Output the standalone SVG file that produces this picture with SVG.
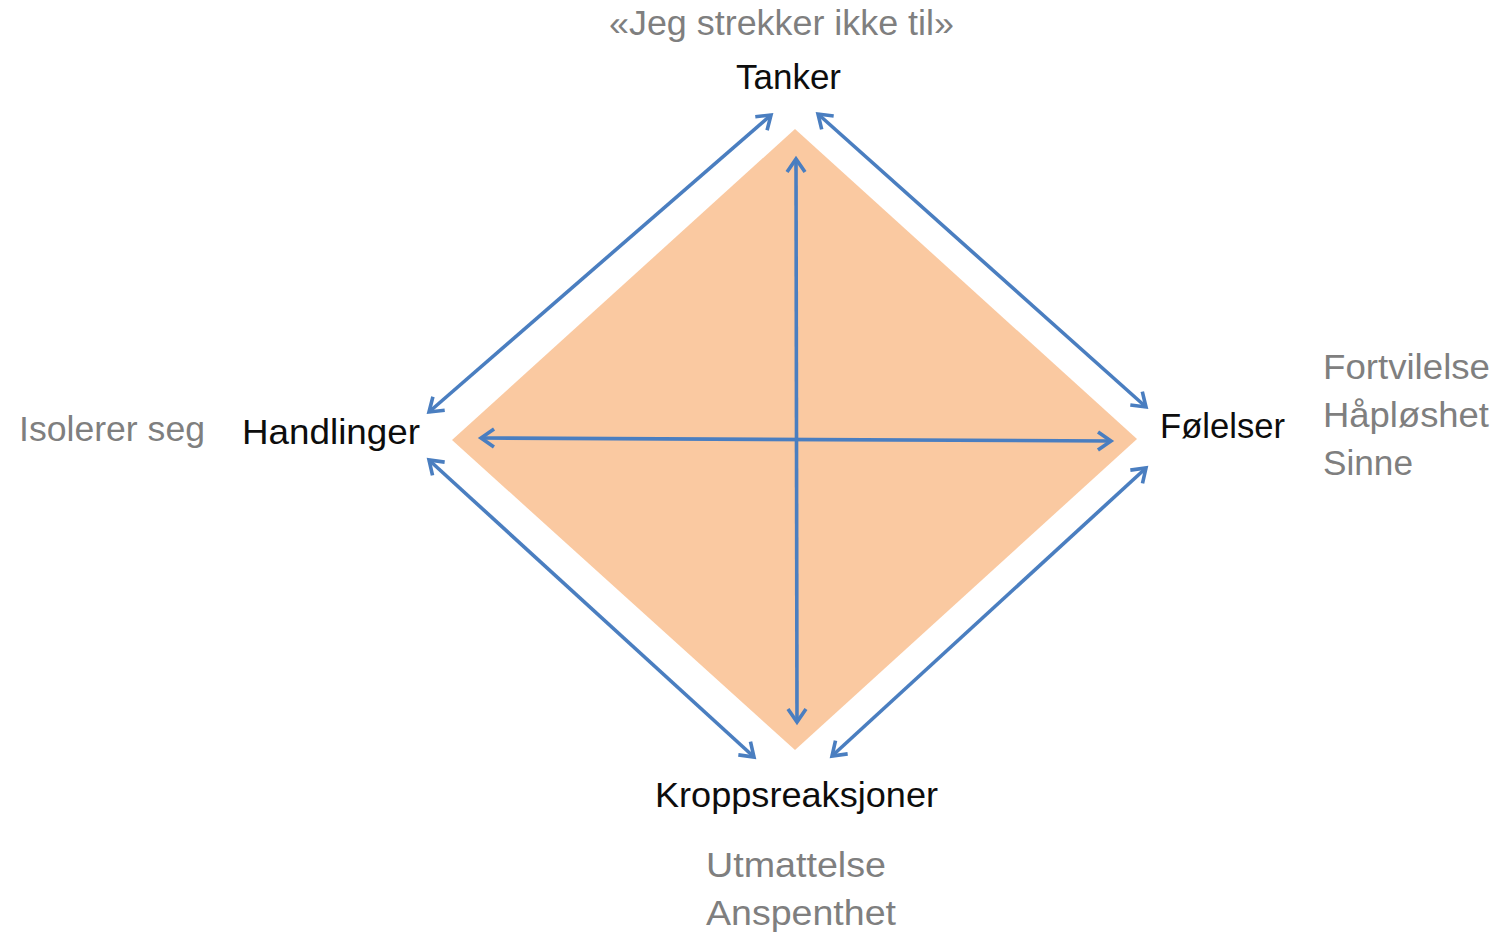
<svg xmlns="http://www.w3.org/2000/svg" width="1499" height="934" viewBox="0 0 1499 934">
<defs>
<style>
.lbl{font-family:"Liberation Sans",Arial,sans-serif;font-size:35px;fill:#0d0d0d}
.sub{font-family:"Liberation Sans",Arial,sans-serif;font-size:35px;fill:#7f7f7f}
.arr{stroke:#4a7ec0;stroke-width:3.6;fill:none;marker-start:url(#ah);marker-end:url(#ah)}
</style>
<marker id="ah" markerUnits="userSpaceOnUse" viewBox="-16 -12 20 24" markerWidth="20" markerHeight="24" refX="0" refY="0" orient="auto-start-reverse" overflow="visible">
<path d="M-13,-9 L0,0 L-13,9" fill="none" stroke="#4a7ec0" stroke-width="3.6" stroke-linejoin="miter"/>
</marker>
</defs>
<rect width="1499" height="934" fill="#ffffff"/>
<g id="diamond">
<polygon points="795,129 1137,439 795,750 452,440" fill="#fac9a1"/>
</g>
<g id="connectors">
<line class="arr" x1="429" y1="412" x2="771" y2="115"/>
<line class="arr" x1="818" y1="114" x2="1146" y2="407"/>
<line class="arr" x1="1146" y1="468" x2="832" y2="756"/>
<line class="arr" x1="429" y1="460" x2="754" y2="757"/>
<line class="arr" x1="796" y1="159" x2="797" y2="722"/>
<line class="arr" x1="481" y1="438" x2="1111" y2="441"/>
</g>
<g id="tanker">
<text class="sub" x="609" y="35" textLength="345" lengthAdjust="spacingAndGlyphs">«Jeg strekker ikke til»</text>
<text class="lbl" x="736" y="89" textLength="105" lengthAdjust="spacingAndGlyphs">Tanker</text>
</g>
<g id="folelser">
<text class="lbl" x="1160" y="438" textLength="125" lengthAdjust="spacingAndGlyphs">Følelser</text>
<text class="sub" x="1323" y="379" textLength="167" lengthAdjust="spacingAndGlyphs">Fortvilelse</text>
<text class="sub" x="1323" y="427" textLength="166" lengthAdjust="spacingAndGlyphs">Håpløshet</text>
<text class="sub" x="1323" y="475" textLength="90" lengthAdjust="spacingAndGlyphs">Sinne</text>
</g>
<g id="handlinger">
<text class="lbl" x="242" y="444" textLength="178" lengthAdjust="spacingAndGlyphs">Handlinger</text>
<text class="sub" x="19" y="441" textLength="186" lengthAdjust="spacingAndGlyphs">Isolerer seg</text>
</g>
<g id="kroppsreaksjoner">
<text class="lbl" x="655" y="807" textLength="283" lengthAdjust="spacingAndGlyphs">Kroppsreaksjoner</text>
<text class="sub" x="706" y="877" textLength="180" lengthAdjust="spacingAndGlyphs">Utmattelse</text>
<text class="sub" x="706" y="925" textLength="190" lengthAdjust="spacingAndGlyphs">Anspenthet</text>
</g>
</svg>
